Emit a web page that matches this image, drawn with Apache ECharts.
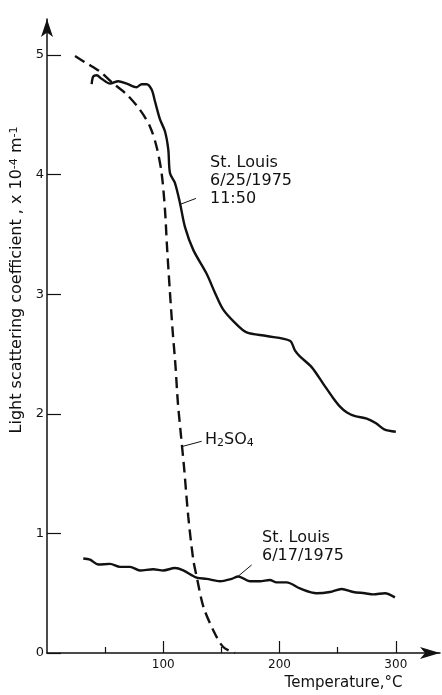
<!DOCTYPE html>
<html>
<head>
<meta charset="utf-8">
<script src="https://cdn.jsdelivr.net/npm/echarts@6/dist/echarts.min.js"></script>
<style>html,body{margin:0;padding:0;background:#fff}#c{width:442px;height:695px}</style>
</head>
<body>
<div id="c"></div>
<script>
// St. Louis 6/25/1975 11:50
const temp625 = [38.4, 39.8, 42.7, 47, 54.2, 61.3, 68.5, 77.1, 81.4, 85.7, 90, 92.9, 97.2, 101.5, 104.3, 105.8, 110, 114.4, 118.7, 125.8, 137.3, 144.5, 151.6, 161.7, 171.7, 188.9, 208.9, 213.2, 217.5, 227.6, 237.6, 246.2, 252, 258, 265, 275, 283, 290, 300];
const val625  = [4.755, 4.82, 4.83, 4.80, 4.76, 4.78, 4.76, 4.73, 4.755, 4.755, 4.71, 4.61, 4.46, 4.36, 4.21, 4.01, 3.93, 3.76, 3.56, 3.37, 3.17, 3.01, 2.87, 2.76, 2.68, 2.65, 2.61, 2.53, 2.48, 2.39, 2.25, 2.13, 2.06, 2.01, 1.98, 1.96, 1.92, 1.87, 1.85];
// H2SO4
const tempH2SO4 = [24.1, 34.1, 45.6, 57, 68.5, 80, 88.6, 94.3, 98.6, 101.5, 103.2, 105.5, 108, 110.5, 112.5, 115, 117.8, 121.5, 125.8, 128.7, 134.4, 143, 151.6, 161.7];
const valH2SO4  = [4.99, 4.93, 4.86, 4.76, 4.67, 4.54, 4.40, 4.23, 4.01, 3.70, 3.40, 3.05, 2.70, 2.40, 2.10, 1.84, 1.56, 1.14, 0.78, 0.64, 0.39, 0.19, 0.05, 0];
// St. Louis 6/17/1975
const temp617 = [31.2, 37, 44.1, 54.2, 62.8, 71.4, 80, 91.4, 100, 110, 117.2, 128.7, 137.3, 148.8, 158.8, 164.5, 174.5, 183.1, 191.7, 197.5, 206.1, 217.5, 231.9, 243.3, 253.4, 263.4, 273.4, 280.6, 290.6, 299.2];
const val617  = [0.79, 0.78, 0.74, 0.745, 0.72, 0.72, 0.69, 0.70, 0.69, 0.71, 0.69, 0.63, 0.62, 0.60, 0.62, 0.64, 0.60, 0.60, 0.61, 0.59, 0.59, 0.54, 0.50, 0.51, 0.535, 0.51, 0.50, 0.49, 0.50, 0.465];

const xMajorTicks = [100, 200, 300];
const xMinorTicks = [50, 150, 250];
const yTicks = [0, 1, 2, 3, 4, 5];

// annotations: text lines, anchor [T, v], leader from/to [T, v]
const labels = [
  { lines: ['St. Louis', '6/25/1975', '11:50'], at: [140.2, 4.17], from: [114.4, 3.75], to: [128.1, 3.80] },
  { lines: ['H{sub|2}SO{sub|4}'], at: [135.9, 1.86], from: [115.8, 1.725], to: [133, 1.77] },
  { lines: ['St. Louis', '6/17/1975'], at: [184.9, 1.04], from: [164.2, 0.64], to: [176, 0.736] }
];

const zip = (a, b) => a.map((x, i) => [x, b[i]]);
const FONT = 'DejaVu Sans';
const INK = '#111';

const chart = echarts.init(document.getElementById('c'), null, { renderer: 'canvas' });
chart.setOption({
  backgroundColor: '#fff',
  animation: false,
  grid: { left: 47, right: 2, top: 19, bottom: 42, containLabel: false, outerBoundsMode: 'none' },
  xAxis: [{
    type: 'value', min: 0, max: 338,
    splitLine: { show: false },
    axisLine: { lineStyle: { color: INK, width: 1.5 }, symbol: ['none', 'arrow'], symbolSize: [9, 20] },
    axisTick: { inside: true, length: 12, customValues: xMajorTicks, lineStyle: { color: INK, width: 1.2 } },
    axisLabel: { margin: 6, fontFamily: FONT, fontSize: 12, color: INK, customValues: xMajorTicks },
    name: 'Temperature,°C', nameLocation: 'middle', nameGap: 17,
    nameTextStyle: { fontFamily: FONT, fontSize: 15, color: INK, padding: [0, 0, 0, 200] }
  }, {
    type: 'value', min: 0, max: 338, position: 'bottom',
    splitLine: { show: false },
    axisLine: { show: false },
    axisTick: { inside: true, length: 6, customValues: xMinorTicks, lineStyle: { color: INK, width: 1.2 } },
    axisLabel: { show: false }
  }],
  yAxis: {
    type: 'value', min: 0, max: 5.3,
    splitLine: { show: false },
    axisLine: { lineStyle: { color: INK, width: 1.5 }, symbol: ['none', 'arrow'], symbolSize: [9, 18] },
    axisTick: { inside: true, length: 14, customValues: yTicks, lineStyle: { color: INK, width: 1.2 } },
    axisLabel: { margin: 3, fontFamily: FONT, fontSize: 13, color: INK, customValues: yTicks },
    name: 'Light scattering coefficient , x 10{sup|-4} m{sup|-1}',
    nameLocation: 'middle', nameGap: 21,
    nameTextStyle: {
      fontFamily: FONT, fontSize: 16, color: INK, padding: [0, 0, 0, 112],
      rich: { sup: { fontFamily: FONT, fontSize: 11, color: INK, verticalAlign: 'top' } }
    }
  },
  series: [
    { name: 'St. Louis 6/25/1975 11:50', type: 'line', data: zip(temp625, val625), showSymbol: false, smooth: 0.3,
      lineStyle: { color: INK, width: 2.4 } },
    { name: 'H2SO4', type: 'line', data: zip(tempH2SO4, valH2SO4), showSymbol: false, smooth: 0.3,
      lineStyle: { color: INK, width: 2.4, type: [11, 6] } },
    { name: 'St. Louis 6/17/1975', type: 'line', data: zip(temp617, val617), showSymbol: false, smooth: 0.3,
      lineStyle: { color: INK, width: 2.4 } }
  ]
});

const g = [];
labels.forEach(l => {
  const p = chart.convertToPixel({ gridIndex: 0 }, l.at);
  const a = chart.convertToPixel({ gridIndex: 0 }, l.from);
  const b = chart.convertToPixel({ gridIndex: 0 }, l.to);
  g.push({ type: 'line', shape: { x1: a[0], y1: a[1], x2: b[0], y2: b[1] }, style: { stroke: INK, lineWidth: 1 } });
  g.push({ type: 'text', x: p[0], y: p[1], style: {
    text: l.lines.join('\n'), fontFamily: FONT, fontSize: 16, lineHeight: 18, fill: INK,
    align: 'left', verticalAlign: 'top',
    rich: { sub: { fontFamily: FONT, fontSize: 11, fill: INK, verticalAlign: 'bottom', padding: [6, 0, 0, 0] } }
  } });
});
chart.setOption({ graphic: g });
</script>
</body>
</html>
